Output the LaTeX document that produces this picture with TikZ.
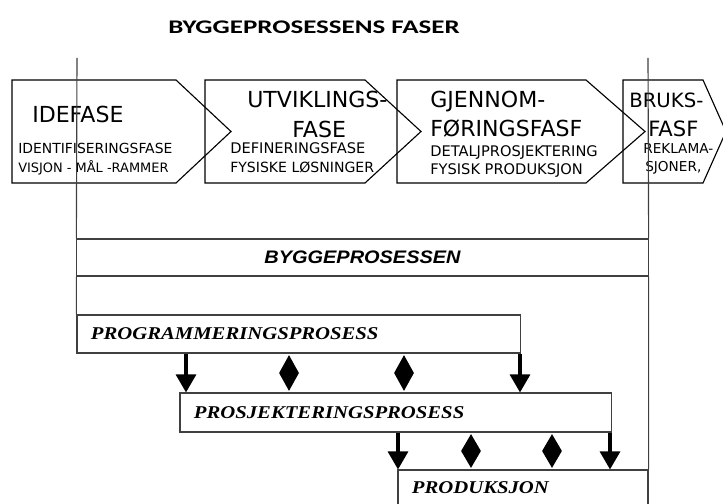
\documentclass[tikz,border=0pt]{standalone}
\usepackage{fontspec}
\usepackage{tikz}
\usetikzlibrary{arrows.meta,shapes.geometric}
\newfontfamily\phasefont{DejaVu Sans}
\newfontfamily\titlefont[FakeStretch=1.4]{Carlito}
\newfontfamily\bandfont[FakeStretch=1.1]{Liberation Sans}
\newfontfamily\procfont[FakeStretch=1.15]{Liberation Serif}

\begin{document}
\begin{tikzpicture}[
    x=0.025cm, y=-0.025cm,
    phase/.style={draw=black, line width=0.8pt},
    bigtxt/.style={anchor=base west, inner sep=0, font=\phasefont\fontsize{15.7}{18}\selectfont},
    smalltxt/.style={anchor=base west, inner sep=0, font=\phasefont\fontsize{10.4}{12}\selectfont},
    rule/.style={draw=black!75, line width=0.8pt},
    band/.style={rule, minimum width=14.275cm, minimum height=0.925cm, inner sep=0, font=\bandfont\bfseries\itshape\fontsize{12.9}{15}\selectfont},
    procbox/.style={rule, minimum height=0.95cm, inner xsep=0.35cm, inner ysep=0, align=left, font=\procfont\bfseries\itshape\fontsize{12.8}{15}\selectfont},
    flow/.style={line width=2.2pt, -{Triangle[width=0.5cm, length=0.45cm]}},
    link/.style={diamond, fill=black, inner sep=0, minimum width=0.5cm, minimum height=0.9cm}
]
\useasboundingbox (0,0) rectangle (723,504);
\clip (0,0) rectangle (723,504);

% title
\node[anchor=base, inner sep=0, font=\titlefont\bfseries\fontsize{13.7}{16}\selectfont] (title) at (314,34) {BYGGEPROSESSENS FASER};

% phases
\draw[phase] (12,80) -- (176,80) -- (231,131.5) -- (176,183) -- (12,183) -- cycle;
\draw[phase] (205,80) -- (365,80) -- (421,131.5) -- (365,183) -- (205,183) -- cycle;
\draw[phase] (397,80) -- (586,80) -- (645,131.5) -- (586,183) -- (397,183) -- cycle;
\draw[phase] (623,80) -- (703,80) -- (726,131.5) -- (703,183) -- (623,183) -- cycle;

\node[bigtxt] (ide) at (32,123) {IDEFASE};
\node[smalltxt, font=\phasefont\fontsize{9.9}{12}\selectfont] (ide1) at (18,154) {IDENTIFISERINGSFASE};
\node[smalltxt, font=\phasefont\fontsize{9.2}{12}\selectfont] (ide2) at (18,173) {VISJON - MÅL -RAMMER};

\node[bigtxt] (utv) at (247,108) {UTVIKLINGS-};
\node[bigtxt] (utvb) at (292,138) {FASE};
\node[smalltxt] (utv1) at (230,154) {DEFINERINGSFASE};
\node[smalltxt, font=\phasefont\fontsize{10}{12}\selectfont] (utv2) at (230,173) {FYSISKE LØSNINGER};

\node[bigtxt] (gjen) at (430,108) {GJENNOM-};
\node[bigtxt] (gjenb) at (430,137) {FØRINGSFASF};
\node[smalltxt] (gjen1) at (430,157) {DETALJPROSJEKTERING};
\node[smalltxt] (gjen2) at (430,175) {FYSISK PRODUKSJON};

\node[bigtxt, font=\phasefont\fontsize{14}{16}\selectfont] (bruk) at (629,108) {BRUKS-};
\node[bigtxt, font=\phasefont\fontsize{15}{17}\selectfont] (brukb) at (648,137) {FASF};
\node[smalltxt, font=\phasefont\fontsize{9.7}{11}\selectfont] (bruk1) at (643,154) {REKLAMA-};
\node[smalltxt, font=\phasefont\fontsize{9.7}{11}\selectfont] (bruk2) at (645,172) {SJONER,};

% processes
\node[band] (bygg) at (362.5,257.5) {BYGGEPROSESSEN};
\node[procbox, text width=10.375cm] (prog) at (298.5,334) {PROGRAMMERINGSPROSESS};
\node[procbox, text width=10.075cm, minimum height=0.975cm] (prosj) at (395.5,412.5) {PROSJEKTERINGSPROSESS};
\node[procbox, text width=5.55cm, minimum height=0.9cm] (prod) at (523,488) {PRODUKSJON};

\coordinate (ltop) at (77,58);
\coordinate (rtop) at (648,58);
\draw[rule] (ltop) -- (bygg.north west);
\draw[rule] (bygg.south west) -- (prog.north west);
\draw[rule] (rtop) -- (bygg.north east);
\draw[rule] (bygg.south east) -- (prod.north east);

% links
\coordinate (a1) at (186,0);
\coordinate (a2) at (520,0);
\coordinate (a3) at (398,0);
\coordinate (a4) at (610,0);
\draw[flow] (a1 |- prog.south) -- (a1 |- prosj.north);
\draw[flow] (a2 |- prog.south) -- (a2 |- prosj.north);
\draw[flow] (a3 |- prosj.south) -- (a3 |- prod.north);
\draw[flow] (a4 |- prosj.south) -- (a4 |- prod.north);

\node[link] (d1) at (289,373) {};
\node[link] (d2) at (404,373) {};
\node[link, minimum height=0.85cm] (d3) at (471,451) {};
\node[link, minimum height=0.85cm] (d4) at (552,451) {};

\end{tikzpicture}
\end{document}
